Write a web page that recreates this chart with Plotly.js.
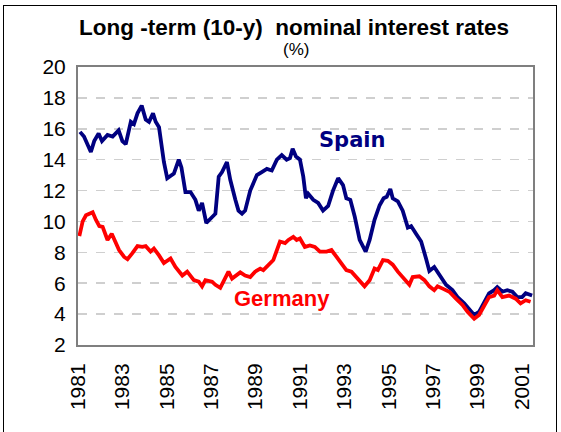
<!DOCTYPE html>
<html>
<head>
<meta charset="utf-8">
<script src="https://cdn.plot.ly/plotly-3.0.1.min.js"></script>
<style>
  html, body { margin: 0; padding: 0; background: #fff; }
  #wrap { position: relative; width: 561px; height: 432px; overflow: hidden; }
  #frame { position: absolute; left: 3px; top: 5px; width: 554px; height: 440px; border: 1px solid #000; box-sizing: border-box; pointer-events: none; }
  #chart { position: absolute; left: 0; top: 0; width: 561px; height: 432px; }
</style>
</head>
<body>
<div id="wrap">
  <div id="chart"></div>
  <div id="frame"></div>
</div>
<script>
// Decimal years and values (%)
var spainYears = [1981.09,1981.27,1981.58,1981.73,1981.93,1982.08,1982.33,1982.56,1982.83,1983.00,1983.15,1983.38,1983.52,1983.68,1983.87,1984.05,1984.20,1984.38,1984.50,1984.65,1984.87,1985.02,1985.32,1985.54,1985.66,1985.84,1986.07,1986.29,1986.44,1986.59,1986.78,1987.04,1987.19,1987.34,1987.49,1987.71,1987.86,1988.09,1988.23,1988.39,1988.53,1988.76,1989.06,1989.28,1989.51,1989.73,1989.96,1990.18,1990.40,1990.55,1990.67,1990.82,1991.00,1991.15,1991.27,1991.37,1991.60,1991.82,1992.04,1992.27,1992.49,1992.72,1992.94,1993.09,1993.27,1993.47,1993.69,1993.96,1994.14,1994.36,1994.59,1994.77,1994.91,1995.07,1995.18,1995.41,1995.63,1995.86,1996.01,1996.23,1996.46,1996.68,1996.83,1997.05,1997.28,1997.58,1997.87,1998.10,1998.40,1998.62,1998.85,1999.07,1999.30,1999.52,1999.75,1999.89,2000.12,2000.34,2000.57,2000.79,2001.01,2001.17,2001.46];
var spainRates = [15.8,15.5,14.5,15.2,15.7,15.2,15.6,15.5,15.9,15.2,15.0,16.45,16.3,17.0,17.5,16.6,16.45,17.0,16.45,16.1,13.85,12.8,13.1,14.0,13.5,11.9,11.9,11.4,10.7,11.2,9.9,10.3,10.5,12.9,13.2,13.85,12.7,11.4,10.7,10.5,10.7,12.0,13.0,13.2,13.4,13.3,14.0,14.3,14.0,14.1,14.7,14.2,14.0,12.9,11.5,11.8,11.4,11.2,10.7,11.0,12.0,12.8,12.35,11.5,11.4,10.3,8.8,8.05,8.8,10.1,11.05,11.5,11.6,12.1,11.5,11.3,10.7,9.6,9.7,9.2,8.7,7.6,6.8,7.05,6.5,5.9,5.55,5.1,4.7,4.35,3.95,4.15,4.8,5.35,5.55,5.75,5.45,5.55,5.45,5.1,5.1,5.35,5.2];

var germanyYears = [1981.06,1981.21,1981.36,1981.51,1981.66,1981.81,1981.96,1982.11,1982.33,1982.52,1982.70,1982.85,1983.08,1983.23,1983.45,1983.68,1983.90,1984.05,1984.27,1984.42,1984.65,1984.87,1985.17,1985.39,1985.70,1985.92,1986.22,1986.44,1986.59,1986.74,1987.04,1987.19,1987.41,1987.56,1987.78,1987.94,1988.09,1988.31,1988.53,1988.76,1988.98,1989.21,1989.35,1989.58,1989.80,1990.10,1990.33,1990.48,1990.70,1990.85,1991.00,1991.22,1991.45,1991.67,1991.90,1992.20,1992.42,1992.65,1992.87,1993.09,1993.32,1993.54,1993.77,1993.91,1994.14,1994.36,1994.51,1994.74,1994.96,1995.18,1995.41,1995.63,1995.93,1996.08,1996.38,1996.61,1996.83,1997.05,1997.20,1997.43,1997.73,1998.03,1998.32,1998.55,1998.85,1999.07,1999.30,1999.52,1999.75,1999.89,2000.12,2000.42,2000.72,2000.94,2001.17,2001.39];
var germanyRates = [9.05,10.0,10.4,10.5,10.6,10.1,9.7,9.65,8.8,9.2,8.7,8.15,7.7,7.55,7.95,8.4,8.35,8.4,8.05,8.25,7.8,7.3,7.6,7.05,6.5,6.75,6.2,6.1,5.8,6.2,6.1,5.9,5.7,6.1,6.75,6.3,6.45,6.7,6.5,6.4,6.75,6.95,6.85,7.2,7.5,8.7,8.6,8.8,9.0,8.8,8.9,8.35,8.45,8.35,8.05,8.05,8.15,7.7,7.3,6.85,6.75,6.4,6.0,5.8,6.2,6.95,6.85,7.5,7.45,7.2,6.75,6.4,5.9,6.4,6.45,6.2,5.8,5.55,5.8,5.65,5.45,5.0,4.6,4.15,3.7,3.95,4.5,5.1,5.2,5.55,5.1,5.2,5.0,4.7,4.9,4.8];

var tickYears = [1981,1983,1985,1987,1989,1991,1993,1995,1997,1999,2001];
var tickLabels = ["1981","1983","1985","1987","1989","1991","1993","1995","1997","1999","2001"];
var yTicks = [2,4,6,8,10,12,14,16,18,20];

var chartTitle = "Long -term (10-y)\u00A0\u00A0nominal interest rates";
var chartSubtitle = "(%)";
var seriesNames = ["Spain", "Germany"];

var FONT = "Liberation Sans, Arial, sans-serif";

var traces = [
  { x: spainYears, y: spainRates, name: seriesNames[0], type: "scatter", mode: "lines",
    line: { color: "#000080", width: 3.8, shape: "linear" } },
  { x: germanyYears, y: germanyRates, name: seriesNames[1], type: "scatter", mode: "lines",
    line: { color: "#ff0000", width: 3.8, shape: "linear" } }
];

var layout = {
  width: 561, height: 432,
  margin: { l: 78, r: 28, t: 67, b: 87, pad: 0 },
  paper_bgcolor: "rgba(0,0,0,0)",
  plot_bgcolor: "#fff",
  showlegend: false,
  font: { family: FONT, color: "#000" },
  xaxis: {
    range: [1981, 2001.5],
    tickvals: tickYears, ticktext: tickLabels,
    tickangle: -90, ticks: "",
    tickfont: { size: 21, family: FONT, color: "#000" },
    showgrid: false, zeroline: false,
    showline: true, mirror: true, linecolor: "#7f7f7f", linewidth: 2,
    ticklabelstandoff: 8
  },
  yaxis: {
    range: [2, 20],
    tickvals: yTicks,
    ticks: "",
    tickfont: { size: 21, family: FONT, color: "#000" },
    showgrid: true, gridcolor: "#cfcfcf", gridwidth: 1.5, griddash: "dash",
    zeroline: false,
    showline: true, mirror: true, linecolor: "#7f7f7f", linewidth: 2,
    ticklabelstandoff: 6
  },
  annotations: [
    { xref: "paper", yref: "paper", x: 0.475, y: 1, yshift: 40, xanchor: "center", yanchor: "middle",
      text: "<b>" + chartTitle + "</b>", showarrow: false, font: { size: 22.5, family: FONT, color: "#000" } },
    { xref: "paper", yref: "paper", x: 0.48, y: 1, yshift: 18, xanchor: "center", yanchor: "middle",
      text: chartSubtitle, showarrow: false, font: { size: 17, family: FONT, color: "#000" } },
    { xref: "x", yref: "y", x: 1993.33, y: 15.27, xanchor: "center", yanchor: "middle",
      text: "<b>" + seriesNames[0] + "</b>", showarrow: false, font: { size: 21, family: "DejaVu Sans, Verdana, sans-serif", color: "#000080" } },
    { xref: "x", yref: "y", x: 1990.19, y: 5.04, xanchor: "center", yanchor: "middle",
      text: "<b>" + seriesNames[1] + "</b>", showarrow: false, font: { size: 22, family: FONT, color: "#ff0000" } }
  ]
};

Plotly.newPlot("chart", traces, layout, { displayModeBar: false, staticPlot: true });
</script>
</body>
</html>
